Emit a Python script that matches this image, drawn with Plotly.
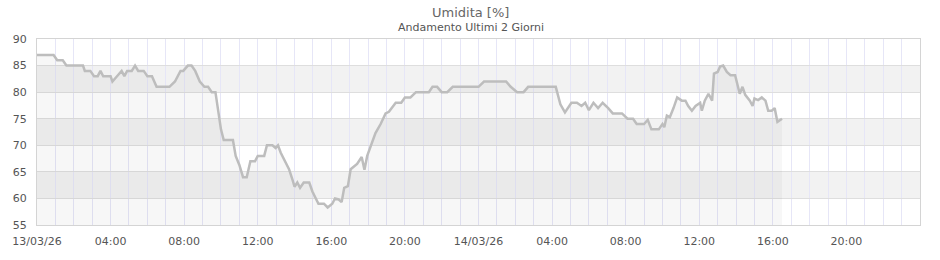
import pandas as pd
import plotly.graph_objects as go

# ---- data ----
start = "2026-03-13 00:00"
hours = [0.0, 0.9, 1.1, 1.4, 1.6, 2.5, 2.6, 2.9, 3.1, 3.3, 3.45, 3.6, 4.0, 4.1, 4.35,
         4.6, 4.75, 4.9, 5.15, 5.33, 5.5, 5.8, 6.0, 6.25, 6.5, 7.2, 7.5, 7.8, 7.95,
         8.2, 8.4, 8.6, 8.85, 9.1, 9.3, 9.5, 9.7, 9.85, 10.0, 10.15, 10.65, 10.8,
         11.0, 11.2, 11.4, 11.6, 11.85, 12.0, 12.35, 12.5, 12.8, 12.97, 13.1, 13.25,
         13.5, 13.7, 13.9, 14.0, 14.15, 14.3, 14.5, 14.8, 14.97, 15.15, 15.3, 15.6,
         15.8, 16.05, 16.2, 16.4, 16.56, 16.7, 16.9, 17.05, 17.23, 17.4, 17.65,
         17.8, 17.95, 18.13, 18.4, 18.68, 18.95, 19.13, 19.3, 19.5, 19.8, 20.0,
         20.3, 20.6, 21.3, 21.5, 21.75, 22.0, 22.3, 22.6, 24.0, 24.3, 25.5, 25.75,
         26.1, 26.45, 26.7, 28.2, 28.45, 28.7, 29.05, 29.35, 29.6, 29.8, 30.0,
         30.25, 30.5, 30.75, 31.05, 31.3, 31.8, 32.1, 32.4, 32.6, 33.0, 33.2, 33.4,
         33.8, 34.0, 34.1, 34.24, 34.4, 34.6, 34.8, 35.05, 35.25, 35.4, 35.6, 35.8,
         36.05, 36.14, 36.3, 36.5, 36.7, 36.8, 37.0, 37.13, 37.3, 37.5, 37.7,
         37.95, 38.1, 38.2, 38.35, 38.5, 38.75, 38.9, 39.0, 39.2, 39.4, 39.6,
         39.75, 39.94, 40.1, 40.25, 40.5]
humidity = [87, 87, 86, 86, 85, 85, 84, 84, 83, 83, 84, 83, 83, 82, 83,
            84, 83, 84, 84, 85, 84, 84, 83, 83, 81, 81, 82, 84, 84,
            85, 85, 84, 82, 81, 81, 80, 80, 76.6, 73, 71, 71, 68,
            66.3, 64, 64, 67, 67, 68, 68, 70, 70, 69.5, 70, 68.6,
            67, 65.5, 63.4, 62.2, 63, 62, 63, 63, 61.3, 60, 59, 59,
            58.3, 59, 60, 59.8, 59.3, 62, 62.3, 65.5, 66, 66.5, 67.8,
            65.4, 68, 69.8, 72.3, 74, 76, 76.3, 77, 78, 78, 79,
            79, 80, 80, 81, 81, 80, 80, 81, 81, 82, 82, 81,
            80, 80, 81, 81, 77.7, 76.2, 78, 78, 77.4, 78, 76.6,
            78, 77, 78, 77, 76, 76, 75, 75, 74, 74, 74.8, 73,
            73, 74, 73.4, 75.6, 75.3, 77, 79, 78.4, 78.4, 77.4, 76.5, 77.4,
            78, 76.5, 78.4, 79.7, 78.4, 83.5, 83.8, 84.8, 85, 83.8, 83.2,
            83.2, 81, 79.7, 81, 79.5, 78.4, 77.4, 78.8, 78.5, 79, 78.4,
            76.5, 76.5, 77, 74.4, 75]

tick_hours = [0, 4, 8, 12, 16, 20, 24, 28, 32, 36, 40, 44]
tick_labels = ["13/03/26", "04:00", "08:00", "12:00", "16:00", "20:00",
               "14/03/26", "04:00", "08:00", "12:00", "16:00", "20:00"]
range_hours = [0, 48]
y_range = [55, 90]
bands = [(60, 65), (70, 75), (80, 85)]

title_text = "Umidita [%]"
subtitle_text = "Andamento Ultimi 2 Giorni"

# ---- build ----
t0 = pd.Timestamp(start)
times = t0 + pd.to_timedelta(hours, unit="h")
tickvals = t0 + pd.to_timedelta(tick_hours, unit="h")
xrange = t0 + pd.to_timedelta(range_hours, unit="h")

FONT = "DejaVu Sans"
fig = go.Figure()
fig.add_trace(go.Scatter(
    x=times, y=humidity, mode="lines",
    line=dict(color="#bdbdbd", width=2.5),
    fill="tozeroy", fillcolor="rgba(0,0,0,0.03)",
    hoverinfo="x+y", showlegend=False,
))

for y0, y1 in bands:
    fig.add_shape(type="rect", xref="paper", x0=0, x1=1, yref="y", y0=y0, y1=y1,
                  fillcolor="#f2f2f2", line=dict(width=0), layer="below")

fig.update_layout(
    width=940, height=260,
    margin=dict(l=36, r=20, t=39, b=30),
    paper_bgcolor="white", plot_bgcolor="white",
    font=dict(family=FONT, size=11, color="#555"),
    showlegend=False,
    annotations=[
        dict(text=title_text, xref="paper", yref="paper", x=(470 - 36) / 884,
             y=(230 - 12) / 191, xanchor="center", yanchor="middle",
             showarrow=False, font=dict(family=FONT, size=13, color="#666")),
        dict(text=subtitle_text, xref="paper", yref="paper", x=(470 - 36) / 884,
             y=(230 - 27) / 191, xanchor="center", yanchor="middle",
             showarrow=False, font=dict(family=FONT, size=11, color="#555")),
    ],
)
fig.update_xaxes(
    type="date", range=list(xrange),
    tickmode="array", tickvals=list(tickvals), ticktext=tick_labels,
    showgrid=True, gridcolor="#e6e6f7", gridwidth=1,
    minor=dict(tickmode="linear", tick0=start, dtick=3600000,
               showgrid=True, gridcolor="#e6e6f7", gridwidth=1),
    showline=True, linecolor="#d4d4d4", linewidth=1, mirror=True,
    ticks="outside", ticklen=6, tickcolor="rgba(0,0,0,0)",
    zeroline=False, tickfont=dict(family=FONT, size=11, color="#555"),
)
fig.update_yaxes(
    range=y_range, tickmode="linear", tick0=55, dtick=5,
    showgrid=True, gridcolor="#dedede", gridwidth=1,
    showline=True, linecolor="#d4d4d4", linewidth=1, mirror=True,
    ticks="outside", ticklen=7, tickcolor="rgba(0,0,0,0)",
    zeroline=False, tickfont=dict(family=FONT, size=11, color="#555"),
)

fig.write_html("out.html")
